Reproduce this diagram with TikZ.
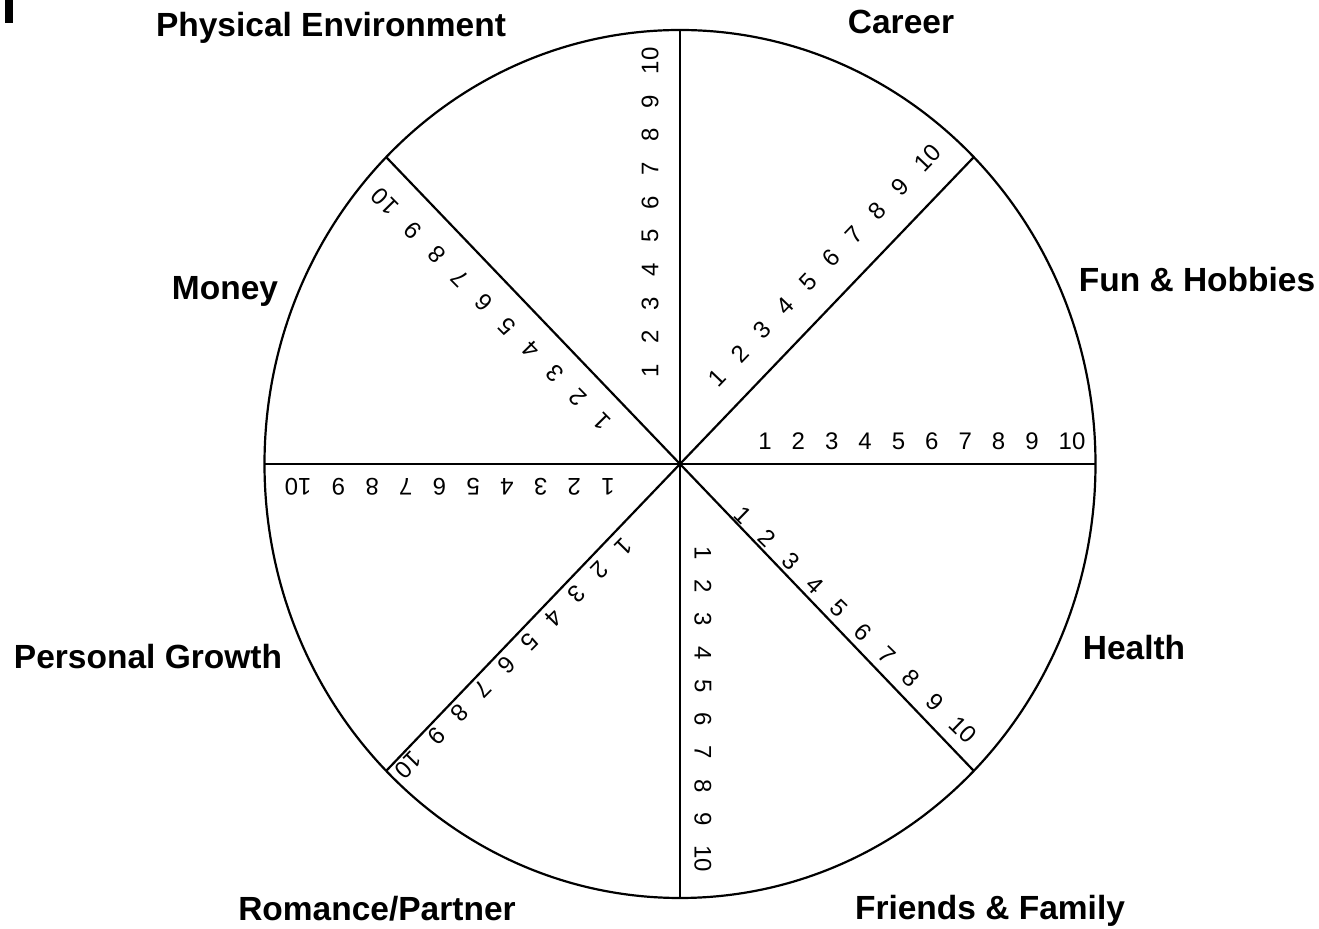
\documentclass[tikz,border=0pt]{standalone}
\usepackage{fontspec}
\setmainfont{Liberation Sans}
\begin{document}
\begin{tikzpicture}[x=0.5pt,y=-0.5pt,
  wheel/.style={line width=1.1pt,black},
  num/.style={inner sep=0pt,font=\fontsize{12}{12}\selectfont},
  area/.style={inner sep=0pt,anchor=base,font=\fontsize{16.75}{17}\selectfont\bfseries}]
\useasboundingbox (0,0) rectangle (1319,929);
\fill (5,0) rectangle (12.7,22.7);
\coordinate (c) at (680,464);
\draw[wheel] (c) ellipse [x radius=415.5, y radius=434];
\foreach \s/\a in {E/0,NE/45,N/90,NW/135,W/180,SW/225,S/270,SE/315}{
  \coordinate (end\s) at ({680+415.5*cos(\a)},{464-434*sin(\a)});
  \draw[wheel] (c) -- (end\s);
}
\foreach \s/\xa/\ya/\xb/\yb/\r in {
  E/765/441/1072/441/0,
  NE/716.7/378/928/158/46.2,
  N/650/371/650/61/90,
  NW/601.7/421.7/385/201.7/134.6,
  W/608/487/298/487/180,
  SW/623.3/546.7/408.3/765/225.4,
  S/703/553/703/859/270,
  SE/743.3/515/963.3/730/-44.3}{
  \foreach \k in {1,...,10}{
    \pgfmathsetmacro\f{ifthenelse(\k==10,1,(\k-1)*33.36/306.9)}
    \node[num,rotate=\r] (n\s\k) at ({\xa+\f*(\xb-\xa)},{\ya+\f*(\yb-\ya)}) {\k};
  }
}
\node[area] (physical) at (331,37) {Physical Environment};
\node[area] (career) at (901,34) {Career};
\node[area] (fun) at (1197,292) {Fun \& Hobbies};
\node[area] (money) at (225,300) {Money};
\node[area] (health) at (1134,660) {Health};
\node[area] (growth) at (148,669) {Personal Growth};
\node[area] (romance) at (377,921) {Romance/Partner};
\node[area] (friends) at (990,920) {Friends \& Family};
\end{tikzpicture}
\end{document}
